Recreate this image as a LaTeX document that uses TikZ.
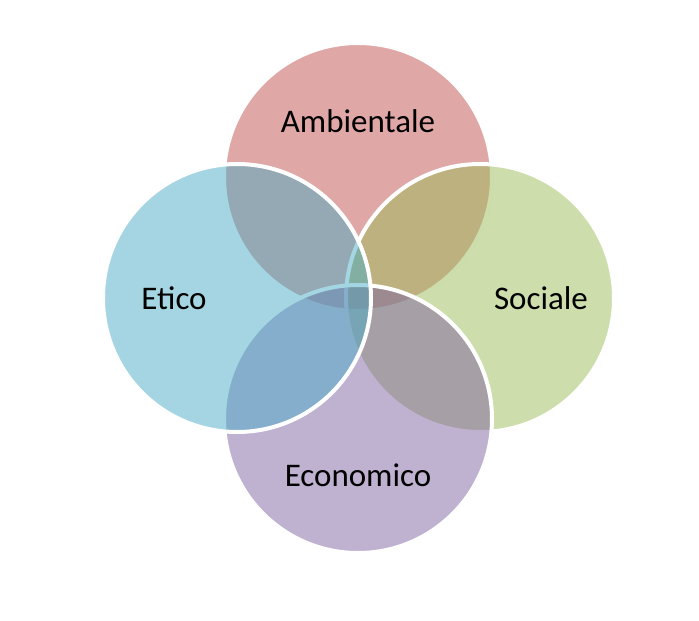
\documentclass[tikz,border=0pt]{standalone}
\usepackage{fontspec}
\setmainfont{Carlito}
\definecolor{ambcol}{RGB}{192,80,77}
\definecolor{soccol}{RGB}{155,187,89}
\definecolor{ecocol}{RGB}{128,100,162}
\definecolor{etcol}{RGB}{75,172,198}
\tikzset{venn/.style={circle, minimum size=268pt, inner sep=0pt, draw=white, line width=4pt, fill opacity=0.5},
	lbl/.style={font=\fontsize{33}{40}\selectfont, text=black}}
\begin{document}
\begin{tikzpicture}[x=1pt,y=-1pt]
		\useasboundingbox (0,0) rectangle (699,621);
		
		\node[venn, fill=ambcol] (A) at (358,177) {};
		\node[venn, fill=soccol] (S) at (480,298) {};
		\node[venn, fill=ecocol] (C) at (358,419) {};
		\node[venn, fill=etcol] (E) at (237,298) {};
		
		\node[lbl] (LA) at (358,121) {Ambientale};
		\node[lbl] (LS) at (541,298) {Sociale};
		\node[lbl] (LC) at (358,475) {Economico};
		\node[lbl] (LE) at (174,298) {Etico};
\end{tikzpicture}
\end{document}
